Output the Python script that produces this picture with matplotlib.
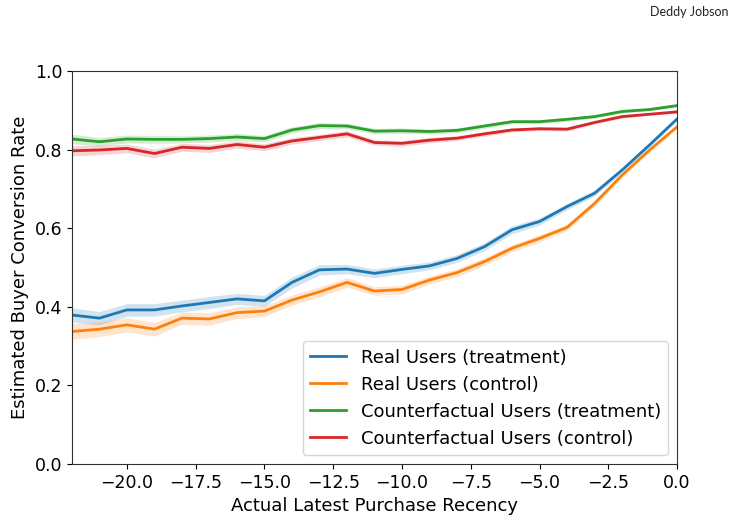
import numpy as np
import matplotlib
matplotlib.use("Agg")
import matplotlib.pyplot as plt

# DATA
recency = list(range(-22, 1))

real_treat = [0.379, 0.371, 0.392, 0.392, 0.402, 0.411, 0.420, 0.415, 0.462, 0.494, 0.496, 0.485,
              0.495, 0.504, 0.523, 0.553, 0.596, 0.617, 0.655, 0.689, 0.748, 0.812, 0.878]
real_ctrl = [0.337, 0.343, 0.354, 0.343, 0.371, 0.369, 0.385, 0.389, 0.417, 0.438, 0.462, 0.440,
             0.444, 0.468, 0.487, 0.515, 0.549, 0.574, 0.602, 0.663, 0.735, 0.799, 0.858]
cf_treat = [0.827, 0.820, 0.827, 0.826, 0.826, 0.828, 0.832, 0.828, 0.850, 0.861, 0.860, 0.847,
            0.848, 0.846, 0.849, 0.860, 0.871, 0.871, 0.877, 0.884, 0.897, 0.902, 0.912]
cf_ctrl = [0.797, 0.799, 0.803, 0.790, 0.806, 0.803, 0.813, 0.806, 0.822, 0.831, 0.840, 0.818,
           0.816, 0.824, 0.829, 0.840, 0.850, 0.853, 0.852, 0.869, 0.884, 0.890, 0.896]

# half widths of the shaded confidence bands
real_treat_ci = [0.018, 0.017, 0.016, 0.016, 0.015, 0.015, 0.014, 0.014, 0.014, 0.013, 0.012, 0.011,
                 0.011, 0.010, 0.010, 0.010, 0.010, 0.009, 0.008, 0.007, 0.006, 0.005, 0.004]
real_ctrl_ci = [0.020, 0.019, 0.018, 0.017, 0.016, 0.016, 0.015, 0.014, 0.013, 0.013, 0.012, 0.011,
                0.011, 0.010, 0.010, 0.010, 0.009, 0.009, 0.008, 0.007, 0.006, 0.005, 0.004]
cf_treat_ci = [0.012, 0.011, 0.010, 0.010, 0.009, 0.009, 0.009, 0.008, 0.008, 0.008, 0.007, 0.007,
               0.007, 0.006, 0.006, 0.006, 0.005, 0.005, 0.005, 0.004, 0.004, 0.003, 0.003]
cf_ctrl_ci = [0.013, 0.012, 0.011, 0.011, 0.010, 0.010, 0.009, 0.009, 0.008, 0.008, 0.008, 0.007,
              0.007, 0.007, 0.006, 0.006, 0.005, 0.005, 0.005, 0.004, 0.004, 0.003, 0.003]

labels = ["Real Users (treatment)", "Real Users (control)",
          "Counterfactual Users (treatment)", "Counterfactual Users (control)"]
colors = ["#1f77b4", "#ff7f0e", "#2ca02c", "#d62728"]

#PLOTTING
plt.rcParams["font.family"] = ["DejaVu Sans"]
fig = plt.figure(figsize=(7.49, 5.26), dpi=100)
ax = fig.add_axes([0.096, 0.118, 0.808, 0.747])

series = [(real_treat, real_treat_ci), (real_ctrl, real_ctrl_ci),
          (cf_treat, cf_treat_ci), (cf_ctrl, cf_ctrl_ci)]
x = np.array(recency)
for (vals, ci), label, color in zip(series, labels, colors):
    v = np.array(vals)
    c = np.array(ci)
    ax.fill_between(x, v - c, v + c, color=color, alpha=0.2, linewidth=0)
    ax.plot(x, v, color=color, linewidth=2, label=label)

ax.set_xlim(-22, 0)
ax.set_ylim(0, 1)
ax.set_xlabel("Actual Latest Purchase Recency", fontsize=13)
ax.set_ylabel("Estimated Buyer Conversion Rate", fontsize=13)
ax.tick_params(labelsize=12.5)
for s in ax.spines.values():
    s.set_color("#333333")

ax.legend(loc="lower right", fontsize=13, frameon=True)

fig.text(0.973, 0.988, "Deddy Jobson", ha="right", va="top", fontsize=9,
         family=["Lato", "DejaVu Sans"], color="#222222")

plt.savefig("out.png", dpi=100)
